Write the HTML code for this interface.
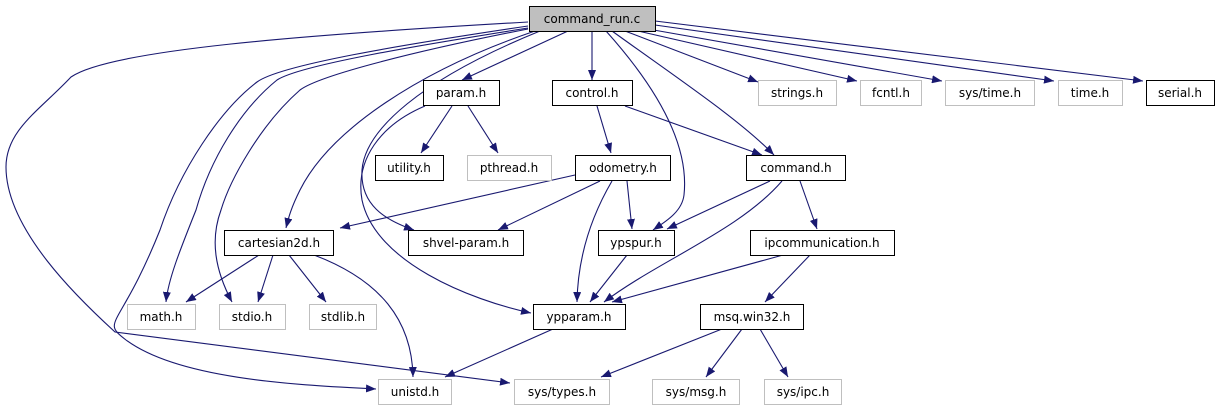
<!DOCTYPE html>
<html><head><meta charset="utf-8"><style>
html,body{margin:0;padding:0;background:#fff;}
svg{display:block;}
text{font-family:"DejaVu Sans","Liberation Sans",sans-serif;font-size:12px;}
</style></head><body>
<svg width="1217" height="411" viewBox="0 0 1217 411" xmlns="http://www.w3.org/2000/svg">
<defs>
<marker id="a" markerWidth="10" markerHeight="8" refX="10" refY="4" orient="auto" markerUnits="userSpaceOnUse">
<path d="M0,0 L10,4 L0,8 z" fill="#191970"/>
</marker>
</defs>
<g fill="none" stroke="#191970" stroke-width="1.1" marker-end="url(#a)">
<!-- command_run.c edges -->
<path d="M568,31 L462,80"/>
<path d="M592,31 L592,80"/>
<path d="M612,31 C680,80 740,120 774,155"/>
<path d="M606,31 C650,80 690,140 684,195 C682,212 665,222 653,230"/>
<path d="M625,31 L758,82"/>
<path d="M638,31 L857,81"/>
<path d="M648,29 L942,81"/>
<path d="M655,25 L1054,81"/>
<path d="M655,21 L1143,81"/>
<path d="M528,22 C300,35 110,50 71,77 C40,110 6,130 6,167 C6,230 80,300 115,332 L510,383"/>
<path d="M528,26 C400,45 280,65 257,82 C220,110 180,170 160,230 C120,330 100,320 126,340 C180,380 300,385 376,389"/>
<path d="M528,28 C420,45 300,65 277,80 C240,110 210,160 196,210 C180,250 168,280 166,302"/>
<path d="M528,29 C420,50 320,75 300,90 C260,125 230,180 221,210 C210,240 215,270 232,302"/>
<path d="M535,31 C420,70 330,130 300,190 C290,210 288,220 286,228"/>
<path d="M540,31 C420,80 365,130 362,170 C360,205 385,220 414,230"/>
<!-- param.h -->
<path d="M452,106 L421,153"/>
<path d="M468,106 L498,153"/>
<path d="M425,106 C380,125 355,160 362,200 C375,262 470,300 531,313"/>
<!-- control.h -->
<path d="M597,106 L611,153"/>
<path d="M625,106 L762,155"/>
<!-- odometry.h -->
<path d="M575,175 L340,228"/>
<path d="M600,181 L498,230"/>
<path d="M627,181 L632,229"/>
<path d="M612,181 C595,210 578,250 577,302"/>
<!-- command.h -->
<path d="M770,181 L667,229"/>
<path d="M782,181 C740,230 660,260 604,302"/>
<path d="M800,181 L817,229"/>
<!-- ypspur / ipcomm -->
<path d="M627,255 L590,302"/>
<path d="M783,255 L612,302"/>
<path d="M810,255 L765,302"/>
<!-- cartesian2d -->
<path d="M259,255 L186,302"/>
<path d="M273,255 L258,302"/>
<path d="M289,255 L326,302"/>
<path d="M314,255 C380,280 412,320 413,377"/>
<!-- ypparam, msq -->
<path d="M553,329 L445,377"/>
<path d="M722,329 L601,377"/>
<path d="M742,329 L706,377"/>
<path d="M760,329 L788,377"/>
</g>
<g stroke-width="1">
<rect x="529.5" y="6.5" width="126" height="25" fill="#bfbfbf" stroke="#000"/>
<g fill="#fff">
<rect x="423.5" y="80.5" width="76" height="25" stroke="#000"/>
<rect x="552.5" y="80.5" width="80" height="25" stroke="#000"/>
<rect x="758.5" y="80.5" width="78" height="25" stroke="#bfbfbf"/>
<rect x="860.5" y="80.5" width="61" height="25" stroke="#bfbfbf"/>
<rect x="945.5" y="80.5" width="89" height="25" stroke="#bfbfbf"/>
<rect x="1058.5" y="80.5" width="64" height="25" stroke="#bfbfbf"/>
<rect x="1146.5" y="80.5" width="68" height="25" stroke="#000"/>
<rect x="375.5" y="155.5" width="68" height="25" stroke="#000"/>
<rect x="467.5" y="155.5" width="84" height="25" stroke="#bfbfbf"/>
<rect x="575.5" y="155.5" width="95" height="25" stroke="#000"/>
<rect x="746.5" y="155.5" width="99" height="25" stroke="#000"/>
<rect x="224.5" y="230.5" width="109" height="25" stroke="#000"/>
<rect x="408.5" y="230.5" width="115" height="25" stroke="#000"/>
<rect x="598.5" y="230.5" width="76" height="25" stroke="#000"/>
<rect x="750.5" y="230.5" width="144" height="25" stroke="#000"/>
<rect x="127.5" y="304.5" width="68" height="25" stroke="#bfbfbf"/>
<rect x="219.5" y="304.5" width="66" height="25" stroke="#bfbfbf"/>
<rect x="309.5" y="304.5" width="67" height="25" stroke="#bfbfbf"/>
<rect x="533.5" y="304.5" width="92" height="25" stroke="#000"/>
<rect x="700.5" y="304.5" width="103" height="25" stroke="#000"/>
<rect x="378.5" y="379.5" width="73" height="25" stroke="#bfbfbf"/>
<rect x="514.5" y="379.5" width="95" height="25" stroke="#bfbfbf"/>
<rect x="652.5" y="379.5" width="87" height="25" stroke="#bfbfbf"/>
<rect x="764.5" y="379.5" width="77" height="25" stroke="#bfbfbf"/>
</g>
</g>
<g fill="#000" text-anchor="middle">
<text x="592" y="23">command_run.c</text>
<text x="461" y="97">param.h</text>
<text x="592" y="97">control.h</text>
<text x="797" y="97">strings.h</text>
<text x="891" y="97">fcntl.h</text>
<text x="990" y="97">sys/time.h</text>
<text x="1090" y="97">time.h</text>
<text x="1180" y="97">serial.h</text>
<text x="409" y="172">utility.h</text>
<text x="509" y="172">pthread.h</text>
<text x="623" y="172">odometry.h</text>
<text x="796" y="172">command.h</text>
<text x="279" y="247">cartesian2d.h</text>
<text x="466" y="247">shvel-param.h</text>
<text x="636" y="247">ypspur.h</text>
<text x="822" y="247">ipcommunication.h</text>
<text x="161" y="321">math.h</text>
<text x="252" y="321">stdio.h</text>
<text x="343" y="321">stdlib.h</text>
<text x="579" y="321">ypparam.h</text>
<text x="752" y="321">msq.win32.h</text>
<text x="415" y="396">unistd.h</text>
<text x="562" y="396">sys/types.h</text>
<text x="696" y="396">sys/msg.h</text>
<text x="803" y="396">sys/ipc.h</text>
</g>
</svg>
</body></html>
